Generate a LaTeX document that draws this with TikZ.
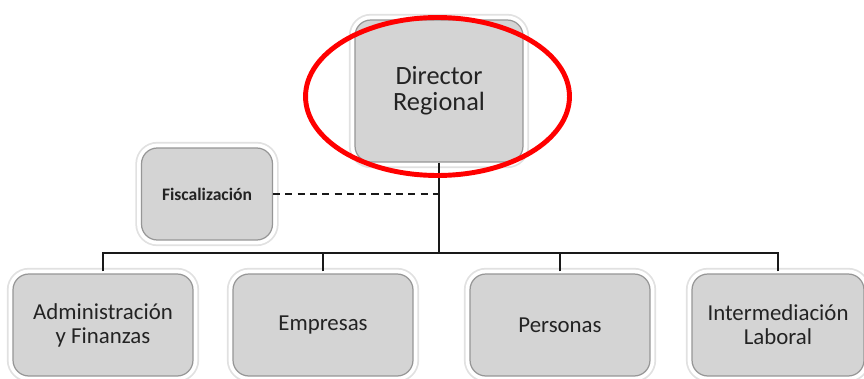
\documentclass[tikz,border=0pt]{standalone}
\usepackage{fontspec}
\setmainfont{Carlito}
\usepackage{xcolor}
\usepackage{tikz}
\usetikzlibrary{positioning, calc}

\definecolor{boxgray}{RGB}{212,212,212}
\definecolor{boxedge}{RGB}{150,150,150}
\definecolor{halo}{RGB}{225,225,225}
\definecolor{txtgray}{RGB}{35,35,35}

\begin{document}
\begin{tikzpicture}[
    x=0.02cm, y=-0.02cm,
    unit/.style={rectangle, rounded corners=9pt, fill=boxgray, draw=boxedge, line width=0.7pt,
      preaction={draw=halo, line width=7pt}, preaction={draw=white, line width=5pt},
      text=txtgray, align=center, inner sep=2pt},
    dept/.style={unit, minimum width=3.6cm, minimum height=2.04cm, font=\fontsize{13}{13.6}\selectfont},
    link/.style={line width=1.1pt, black!90},
    linkdash/.style={link, dash pattern=on 4pt off 3pt}
  ]
    \useasboundingbox (0,0) rectangle (864,378);

    % top level
    \node[unit, minimum width=3.36cm, minimum height=2.84cm, font=\fontsize{15}{14.8}\selectfont] (dir) at (439,91) {Director\\Regional};
    \node[unit, minimum width=2.62cm, minimum height=1.84cm, font=\bfseries\fontsize{10}{12}\selectfont] (fis) at (207,194) {Fiscalización};

    % departments
    \node[dept] (adm) at (103,325) {Administración\\y Finanzas};
    \node[dept] (emp) at (323,325) {Empresas};
    \node[dept] (per) at (560,325) {Personas};
    \node[dept, minimum width=3.44cm] (int) at (778,325) {Intermediación\\Laboral};

    \coordinate (bus) at (439,253);
    \draw[link] (dir.south) -- (bus);
    \foreach \d in {adm,emp,per,int}
      \draw[link] ($(\d.north)+(0,-2)$) |- (bus);
    \draw[linkdash] (fis.east) -- (fis.east -| dir.south);

    % highlight
    \draw[red, line width=2.8pt] (437.5,96.5) ellipse [x radius=2.64cm, y radius=1.58cm];
  \end{tikzpicture}
\end{document}
